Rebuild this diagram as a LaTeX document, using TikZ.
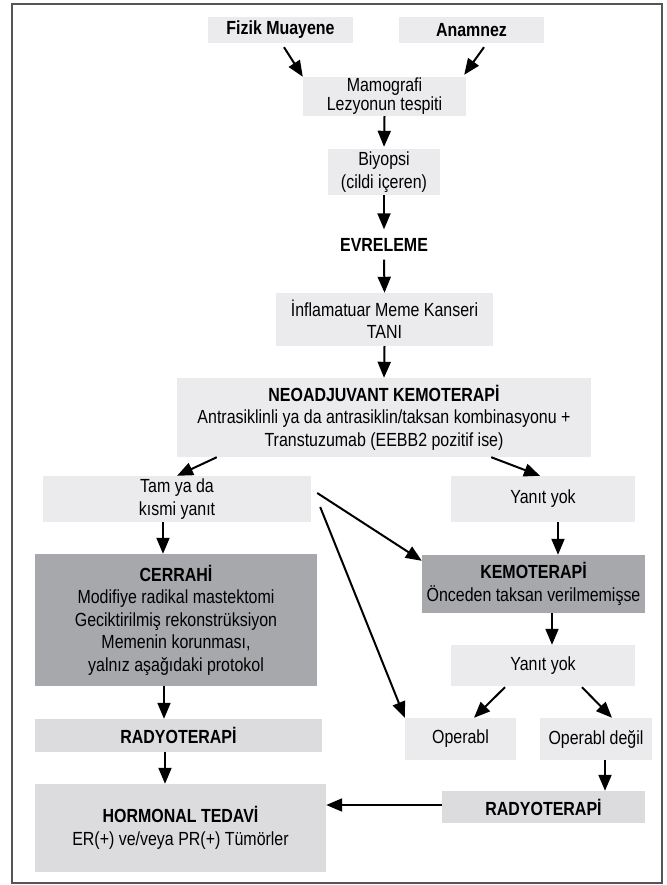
\documentclass[tikz,border=0pt]{standalone}
\usepackage{fontspec}
\setmainfont{Liberation Sans}[FakeStretch=0.84]
\usetikzlibrary{arrows.meta}
\definecolor{boxlight}{HTML}{EBEBED}
\definecolor{boxmid}{HTML}{DCDCDE}
\definecolor{boxdark}{HTML}{A7A8AB}
\definecolor{framegray}{HTML}{555555}
\begin{document}
\begin{tikzpicture}[x=1pt,y=-1pt,
	font=\fontsize{19}{22.5}\selectfont,
	box/.style={fill=boxlight, inner sep=0pt, align=center},
	midbox/.style={box, fill=boxmid},
	darkbox/.style={box, fill=boxdark},
	arr/.style={-{Triangle[length=16pt,width=13pt]}, line width=2pt}]
	\useasboundingbox (0,0) rectangle (666,885);
	\draw[framegray, line width=2pt] (12,4) rectangle (662,883);
	\node (fizik) at (280.5, 30)	[box, minimum width=145pt, minimum height=26pt]	{\textbf{Fizik Muayene}};
	\node (anam) at (471.5, 30)	[box, minimum width=145pt, minimum height=26pt]	{\textbf{Anamnez}};
	\node (mamo) at (384.5, 96.5)	[box, minimum width=163pt, minimum height=39pt, font=\fontsize{19}{19}\selectfont]	{Mamografi\\Lezyonun tespiti};
	\node (bio) at (384, 172)	[box, minimum width=112pt, minimum height=46pt]	{Biyopsi\\(cildi içeren)};
	\node (evre) at (384, 244.5)	[inner sep=0pt, minimum height=30pt]	{\textbf{EVRELEME}};
	\node (infl) at (384.5, 319.5)	[box, minimum width=217pt, minimum height=53pt]	{İnflamatuar Meme Kanseri\\TANI};
	\node (neo) at (384, 417.5)	[box, minimum width=414pt, minimum height=79pt]	{\textbf{NEOADJUVANT KEMOTERAPİ}\\Antrasiklinli ya da antrasiklin/taksan kombinasyonu +\\Transtuzumab (EEBB2 pozitif ise)};
	\node (tam) at (177, 499)	[box, minimum width=268pt, minimum height=46pt]	{Tam ya da\\kısmi yanıt};
	\node (yan1) at (543, 499)	[box, minimum width=184pt, minimum height=46pt]	{Yanıt yok};
	\node (cerr) at (176, 620)	[darkbox, minimum width=282pt, minimum height=132pt]	{\textbf{CERRAHİ}\\Modifiye radikal mastektomi\\Geciktirilmiş rekonstrüksiyon\\Memenin korunması,\\yalnız aşağıdaki protokol};
	\node (kemo) at (533.5, 584)	[darkbox, minimum width=223pt, minimum height=58pt]	{\textbf{KEMOTERAPİ}\\Önceden taksan verilmemişse};
	\node (yan2) at (543, 665.5)	[box, minimum width=184pt, minimum height=41pt]	{Yanıt yok};
	\node (oper) at (460.5, 739)	[box, minimum width=111pt, minimum height=42pt]	{Operabl};
	\node (operd) at (596, 739)	[box, minimum width=112pt, minimum height=42pt]	{Operabl değil};
	\node (rad1) at (178.5, 735.5)	[midbox, minimum width=287pt, minimum height=33pt]	{\textbf{RADYOTERAPİ}};
	\node (horm) at (180.5, 828)	[midbox, minimum width=291pt, minimum height=88pt]	{\textbf{HORMONAL TEDAVİ}\\ER(+) ve/veya PR(+) Tümörler};
	\node (rad2) at (543.5, 807)	[midbox, minimum width=203pt, minimum height=32pt]	{\textbf{RADYOTERAPİ}};
	\draw[arr] ([xshift=3.5pt,yshift=-4pt]fizik.south) -- (mamo.north west);
	\draw[arr] ([xshift=12.5pt,yshift=-4pt]anam.south) -- ([xshift=-2pt,yshift=2pt]mamo.north east);
	\draw[arr, shorten >=2pt] (mamo.south) -- (bio.north);
	\draw[arr] (bio.south) -- (evre.north);
	\draw[arr] (evre.south) -- (infl.north);
	\draw[arr] (infl.south) -- (neo.north);
	\draw[arr] ([xshift=40pt]neo.south west) -- (tam.north);
	\draw[arr] ([xshift=-100pt]neo.south east) -- ([xshift=-3pt]yan1.north);
	\draw[arr] ([xshift=-14pt]tam.south) -- ([xshift=-14pt]tam.south |- cerr.north);
	\draw[arr] ([xshift=6pt,yshift=6pt]tam.east) -- ([yshift=-6pt]kemo.north west);
	\draw[arr] ([xshift=9pt,yshift=-8pt]tam.east) -- (oper.north west);
	\draw[arr] ([xshift=15pt]yan1.south) -- ([xshift=15pt]yan1.south |- kemo.north);
	\draw[arr] ([xshift=18.5pt]kemo.south) -- ([xshift=18.5pt]kemo.south |- yan2.north);
	\draw[arr] ([xshift=-38pt,yshift=-1pt]yan2.south) -- ([xshift=13.5pt]oper.north);
	\draw[arr] ([xshift=39pt,yshift=-1pt]yan2.south) -- ([xshift=16pt]operd.north);
	\draw[arr] ([xshift=-12pt]cerr.south) -- ([xshift=-12pt]cerr.south |- rad1.north);
	\draw[arr] ([xshift=-13.5pt]rad1.south) -- ([xshift=-13.5pt]rad1.south |- horm.north);
	\draw[arr] ([xshift=9pt]operd.south) -- ([xshift=9pt]operd.south |- rad2.north);
	\draw[arr] ([yshift=2pt]rad2.west) -- ([yshift=2pt]rad2.west -| horm.east);
\end{tikzpicture}
\end{document}
